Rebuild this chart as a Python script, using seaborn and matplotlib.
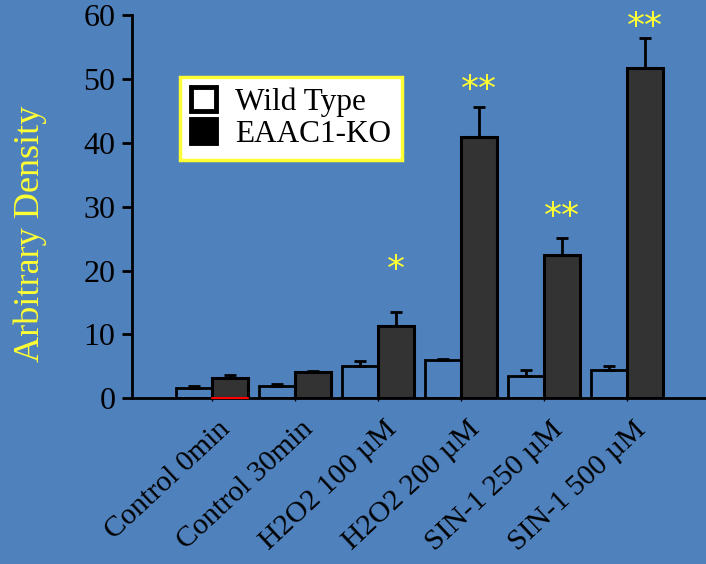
import numpy as np
import pandas as pd
import matplotlib
matplotlib.use("Agg")
import matplotlib.pyplot as plt
import matplotlib.transforms as mtransforms
import seaborn as sns
from matplotlib.patches import Patch

categories = ["Control 0min", "Control 30min", "H2O2 100 \u00b5M", "H2O2 200 \u00b5M",
              "SIN-1 250 \u00b5M", "SIN-1 500 \u00b5M"]
wt_values = [1.6, 1.9, 5.0, 6.0, 3.5, 4.4]
wt_errors = [0.3, 0.3, 0.8, 0.2, 0.9, 0.6]
ko_values = [3.1, 4.1, 11.3, 40.9, 22.4, 51.7]
ko_errors = [0.5, 0.2, 2.2, 4.7, 2.7, 4.7]
ko_sig = ["", "", "*", "**", "**", "**"]
ko_sig_y = [0, 0, 21.1, 49.3, 29.5, 59.2]
series = ["Wild Type", "EAAC1-KO"]

BG = "#4F81BD"
YEL = "#FFFF33"
sns.set_theme(style="white")
plt.rcParams["font.family"] = ["Liberation Serif", "DejaVu Serif"]

df = pd.DataFrame({
    "cat": categories * 2,
    "val": wt_values + ko_values,
    "grp": [series[0]] * len(categories) + [series[1]] * len(categories),
})

fig = plt.figure(figsize=(7.06, 5.64), dpi=100, facecolor=BG)
ax = fig.add_axes([0.187, 0.294, 0.813, 0.679])
ax.set_facecolor(BG)

sns.barplot(data=df, x="cat", y="val", hue="grp", hue_order=series,
            order=categories, errorbar=None, width=0.87, ax=ax,
            palette=[BG, "#333333"], legend=False)

n = len(categories)
wt_patches = ax.patches[:n]
ko_patches = ax.patches[n:2 * n]
for p in wt_patches:
    p.set_facecolor("none")
    p.set_edgecolor("black")
    p.set_linewidth(2)
for p in ko_patches:
    p.set_facecolor("#333333")
    p.set_edgecolor("black")
    p.set_linewidth(2.2)

# thin red artefact under the first KO bar, as in the original figure
p0 = ko_patches[0]
ax.plot([p0.get_x(), p0.get_x() + p0.get_width()], [0, 0], color="#FF0000",
        lw=1.5, zorder=5, clip_on=False)

for patches, vals, errs in [(wt_patches, wt_values, wt_errors), (ko_patches, ko_values, ko_errors)]:
    xs = [p.get_x() + p.get_width() / 2 for p in patches]
    ax.errorbar(xs, vals, yerr=[np.zeros(len(errs)), errs], fmt="none",
                ecolor="black", elinewidth=2, capsize=4, capthick=2, zorder=1)

for p, sy, s in zip(ko_patches, ko_sig_y, ko_sig):
    if s:
        ax.annotate(s, xy=(p.get_x() + p.get_width() / 2, sy), xytext=(0, -12),
                    textcoords="offset points", ha="center", va="baseline",
                    color=YEL, fontsize=26, family="DejaVu Sans",
                    annotation_clip=False)

ax.set_ylim(0, 60)
ax.set_xlim(-0.96, n - 1 + 0.95)
ax.set_yticks(range(0, 61, 10))
ax.set_xlabel("")
ax.set_ylabel("Arbitrary Density", color=YEL, fontsize=26, va="center")
ax.yaxis.set_label_coords(-0.178, 0.428)
for side in ["top", "right"]:
    ax.spines[side].set_visible(False)
for side in ["left", "bottom"]:
    ax.spines[side].set_color("black")
    ax.spines[side].set_linewidth(2)
ax.tick_params(axis="y", direction="out", length=7, width=2, colors="black",
               labelsize=23, left=True, pad=5)
ax.tick_params(axis="x", direction="out", length=2, width=1, colors="black",
               labelsize=21.5, bottom=True, pad=11)
shift = mtransforms.ScaledTranslation(6 / 100, 0, fig.dpi_scale_trans)
for lab in ax.get_xticklabels():
    lab.set_rotation(43)
    lab.set_ha("right")
    lab.set_rotation_mode("anchor")
    lab.set_transform(lab.get_transform() + shift)

handles = [Patch(facecolor="white", edgecolor="black", linewidth=3.5),
           Patch(facecolor="black", edgecolor="black", linewidth=3.5)]
leg = ax.legend(handles, series, loc="upper left", bbox_to_anchor=(0.084, 0.84),
                frameon=True, fancybox=False, fontsize=22.5, handlelength=0.8,
                handleheight=0.8, handletextpad=0.6, borderpad=0.35,
                labelspacing=0.05, borderaxespad=0)
for t in leg.get_texts():
    t.set_color("black")
fr = leg.get_frame()
fr.set_facecolor("white")
fr.set_edgecolor(YEL)
fr.set_linewidth(2.5)
fr.set_alpha(1)

fig.savefig("out.png", dpi=100, facecolor=BG)
